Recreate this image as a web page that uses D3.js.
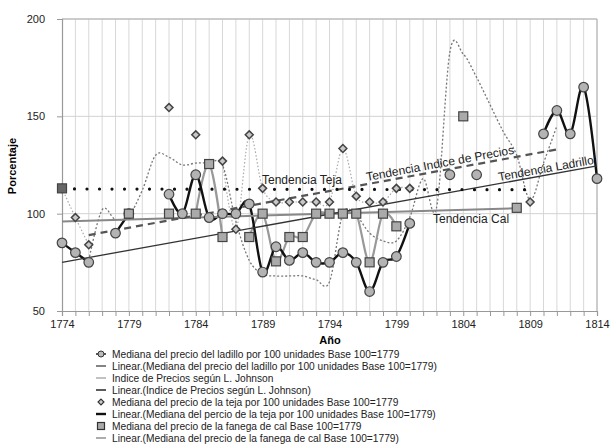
<!DOCTYPE html>
<html><head><meta charset="utf-8">
<script src="https://cdn.jsdelivr.net/npm/d3@7/dist/d3.min.js"></script>
<style>
body{margin:0;background:#fff;}
text{font-family:"Liberation Sans",Arial,sans-serif;}
</style></head>
<body><svg id="c" width="611" height="444"></svg>
<script>
const years = [1774,1775,1776,1777,1778,1779,1780,1781,1782,1783,1784,1785,1786,1787,1788,1789,1790,1791,1792,1793,1794,1795,1796,1797,1798,1799,1800,1801,1802,1803,1804,1805,1806,1807,1808,1809,1810,1811,1812,1813,1814];
const ladrillo = [85,80,75,null,90,100,null,null,110,100,120,98,100,100,105,70,83,76,80,75,75,80,75,60,75,78,95,null,null,120,null,120,null,null,null,null,141,153,141,165,118];
const indice = [null,null,76,102,97,99,112,130,129,125,126,126,125,96,76,69,68,68,68,66,65,100,99,90,86,86,98,118,103,183,182,170,156,142,130,107,126,145,null,null,null];
const teja = [113,98,84,null,null,null,null,null,154.5,null,140.5,null,127,92,140.5,113,106,106,106,106,106,133.5,109,106,106,113,113,null,null,null,null,null,null,null,null,106,null,null,null,null,null];
const cal = [113,null,null,null,null,100,null,null,100,null,100,125.5,88,null,88,100,75.5,88,88,100,100,100,100,75,100,93.5,null,null,null,null,150,null,null,null,103,null,null,null,null,null,null];
const ladTrend = [[1774,75],[1814,124.5]];
const indTrend = [[1776,89],[1811,133]];
const tejaTrend = [[1774,112.7],[1809,112.3]];
const calTrend = [[1774,96],[1808,102.8]];
const yTicks = [50,100,150,200];
const legendLabels = [
 "Mediana del precio del ladillo por 100 unidades Base 100=1779",
 "Linear.(Mediana del precio del ladillo por 100 unidades Base 100=1779)",
 "Indice de Precios según L. Johnson",
 "Linear.(Indice de Precios según L. Johnson)",
 "Mediana del precio de la teja por 100 unidades Base 100=1779",
 "Linear.(Mediana del percio de la teja por 100 unidades Base 100=1779)",
 "Mediana del precio de la fanega de cal Base 100=1779",
 "Linear.(Mediana del precio de la fanega de cal Base 100=1779)"
];

const svg = d3.select("#c");
const L=62,R=597,T=19,B=311;
const x = d3.scaleLinear().domain([1774,1814]).range([L,R]);
const y = d3.scaleLinear().domain([50,200]).range([B,T]);
const pts = arr => years.map((yr,i)=>({x:yr,v:arr[i]}));

// grid
const g = svg.append("g");
g.selectAll(".vg").data(years.slice(1,-1)).join("line")
 .attr("x1",d=>x(d)).attr("x2",d=>x(d)).attr("y1",T).attr("y2",B)
 .attr("stroke","#d8d8d8").attr("stroke-width",1);
g.selectAll(".hg").data([100,150]).join("line")
 .attr("x1",L).attr("x2",R).attr("y1",d=>y(d)).attr("y2",d=>y(d))
 .attr("stroke","#d2d2d2").attr("stroke-width",1);
g.append("line").attr("x1",L).attr("x2",R).attr("y1",T).attr("y2",T).attr("stroke","#bbb").attr("stroke-width",1.5);
g.append("line").attr("x1",R).attr("x2",R).attr("y1",T).attr("y2",B).attr("stroke","#bbb").attr("stroke-width",1.5);

// axes
const xa = svg.append("g").attr("transform",`translate(0,${B})`)
 .call(d3.axisBottom(x).tickValues(years).tickFormat(d=>(d-1774)%5===0?d:"").tickSize(5).tickPadding(4));
const ya = svg.append("g").attr("transform",`translate(${L},0)`)
 .call(d3.axisLeft(y).tickValues(yTicks).tickSize(5).tickPadding(12));
[xa,ya].forEach(a=>{a.select(".domain").attr("stroke","#999").attr("stroke-width",1.2);
 a.selectAll(".tick line").attr("stroke","#999");
 a.selectAll("text").attr("font-size",11).attr("fill","#222").style("font-family","Liberation Sans, Arial");});

svg.append("text").attr("x",330).attr("y",344).attr("text-anchor","middle")
 .attr("font-size",11).attr("font-weight","bold").text("Año");
svg.append("text").attr("transform","translate(16,166) rotate(-90)").attr("text-anchor","middle")
 .attr("font-size",11).attr("font-weight","bold").text("Porcentaje");

const smooth = d3.line().defined(d=>d.v!=null).x(d=>x(d.x)).y(d=>y(d.v)).curve(d3.curveCardinal.tension(0));
const straight = d3.line().x(d=>x(d[0])).y(d=>y(d[1]));

// series lines
svg.append("path").attr("d",smooth(pts(teja))).attr("fill","none").attr("stroke","#aaa").attr("stroke-width",1.2).attr("stroke-dasharray","1.5,2");
svg.append("path").attr("d",smooth(pts(indice))).attr("fill","none").attr("stroke","#777").attr("stroke-width",1.3).attr("stroke-dasharray","2,2");
svg.append("path").attr("d",smooth(pts(cal))).attr("fill","none").attr("stroke","#999").attr("stroke-width",2.2);
svg.append("path").attr("d",smooth(pts(ladrillo))).attr("fill","none").attr("stroke","#111").attr("stroke-width",2.4);

// trends
svg.append("path").attr("d",straight(calTrend)).attr("fill","none").attr("stroke","#888").attr("stroke-width",2);
svg.append("path").attr("d",straight(ladTrend)).attr("fill","none").attr("stroke","#333").attr("stroke-width",1.3);
svg.append("path").attr("d",straight(indTrend)).attr("fill","none").attr("stroke","#555").attr("stroke-width",2.2).attr("stroke-dasharray","7,5");
svg.append("path").attr("d",straight(tejaTrend)).attr("fill","none").attr("stroke","#111").attr("stroke-width",3.2).attr("stroke-linecap","round").attr("stroke-dasharray","0,12.5");

// markers
const circ = pts(ladrillo).filter(d=>d.v!=null);
svg.selectAll(".ci").data(circ).join("circle").attr("cx",d=>x(d.x)).attr("cy",d=>y(d.v)).attr("r",4.8)
 .attr("fill","#b3b3b3").attr("stroke","#444").attr("stroke-width",1.2);
const dia = pts(teja).filter(d=>d.v!=null);
svg.selectAll(".di").data(dia).join("path").attr("d",d3.symbol(d3.symbolDiamond2,40)())
 .attr("transform",d=>`translate(${x(d.x)},${y(d.v)})`)
 .attr("fill","#c8c8c8").attr("stroke","#444").attr("stroke-width",1.5);
const sq = pts(cal).filter(d=>d.v!=null);
svg.selectAll(".sq").data(sq).join("rect").attr("x",d=>x(d.x)-4.5).attr("y",d=>y(d.v)-4.5).attr("width",9).attr("height",9)
 .attr("fill",(d,i)=>i===0?"#666":"#aaa").attr("stroke","#444").attr("stroke-width",1.2);

// labels
const lab = (t,xx,yy,rot)=>svg.append("text").attr("transform",`translate(${xx},${yy}) rotate(${rot})`)
 .attr("font-size",12).attr("fill","#222").text(t);
lab("Tendencia Teja",262,184,0);
lab("Tendencia Indice de Precios",367,181,-10.5);
lab("Tendencia Ladrillo",499,181,-10.2);
lab("Tendencia Cal",433,223,0);

// legend
const lg = svg.append("g");
legendLabels.forEach((t,i)=>{
 const cy = 354 + i*12;
 const mx = 101;
 if(i===0){ lg.append("line").attr("x1",mx-5).attr("x2",mx+5).attr("y1",cy).attr("y2",cy).attr("stroke","#222").attr("stroke-width",1.5);
   lg.append("circle").attr("cx",mx).attr("cy",cy).attr("r",3).attr("fill","#bbb").attr("stroke","#333").attr("stroke-width",1); }
 else if(i===4){ lg.append("path").attr("d",d3.symbol(d3.symbolDiamond2,22)()).attr("transform",`translate(${mx},${cy})`).attr("fill","#ccc").attr("stroke","#333").attr("stroke-width",1.2);}
 else if(i===6){ lg.append("rect").attr("x",mx-3.5).attr("y",cy-3.5).attr("width",7).attr("height",7).attr("fill","#aaa").attr("stroke","#333").attr("stroke-width",1.2);}
 else {
   const st = {1:["#333",1.2],2:["#999",1.2],3:["#333",1.6],5:["#111",2.4],7:["#888",1.4]}[i];
   lg.append("line").attr("x1",mx-5).attr("x2",mx+5).attr("y1",cy).attr("y2",cy).attr("stroke",st[0]).attr("stroke-width",st[1]);
 }
 lg.append("text").attr("x",112).attr("y",cy+3.6).attr("font-size",10.2).attr("fill","#222").text(t);
});
</script></body></html>
